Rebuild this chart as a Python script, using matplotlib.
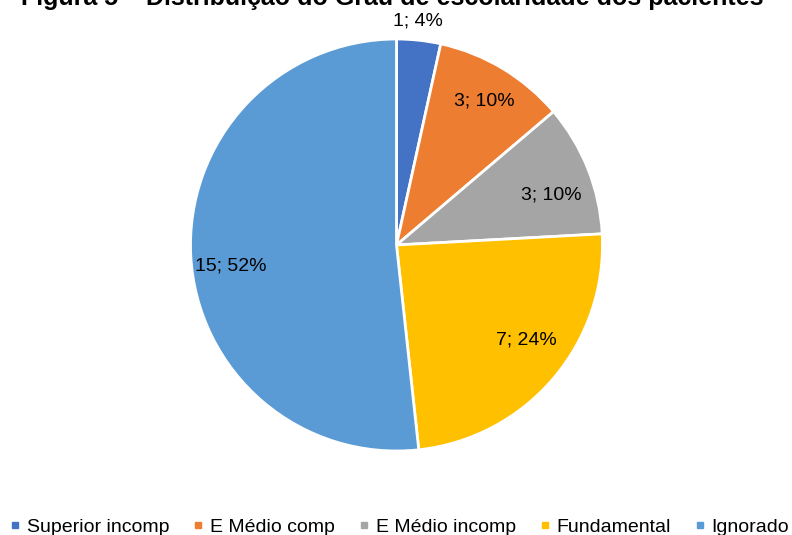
import matplotlib
matplotlib.use("Agg")
import matplotlib.pyplot as plt
from matplotlib.lines import Line2D
import numpy as np

categories = ["Superior incomp", "E Médio comp", "E Médio incomp", "Fundamental", "Ignorado"]
values = [1, 3, 3, 7, 15]
percent_labels = [4, 10, 10, 24, 52]
colors = ["#4472C4", "#ED7D31", "#A5A5A5", "#FFC000", "#5B9BD5"]
title = "Figura 5 – Distribuição do Grau de escolaridade dos pacientes"

# label placement (layout only): angle in degrees, distance as fraction of radius
label_angles = [84.6, 58.6, 18.0, -36.2, -172.7]
label_dists = [1.09, 0.82, 0.79, 0.78, 0.81]

plt.rcParams['font.family'] = ['Liberation Sans', 'DejaVu Sans']

W, H = 792, 535
CX, CY, R = 396.5, 290, 206
fig = plt.figure(figsize=(W / 100, H / 100), dpi=100)
ax = fig.add_axes([0, 0, 1, 1])

wedges, texts = ax.pie(
    values, colors=colors, startangle=90, counterclock=False,
    center=(CX, CY), radius=R,
    wedgeprops=dict(edgecolor='white', linewidth=2))

ax.set_xlim(0, W)
ax.set_ylim(0, H)
ax.set_aspect('equal')
ax.axis('off')

for v, p, a, d in zip(values, percent_labels, label_angles, label_dists):
    t = np.deg2rad(a)
    ax.text(CX + d * R * np.cos(t), CY + d * R * np.sin(t), f"{v}; {p}%",
            ha='center', va='center', fontsize=14, color='#000000')

fig.text(0.5 - 4 / W, (H - 5) / H, title, ha='center', va='baseline',
         fontsize=18, fontweight='bold', color='#000000')

handles = [Line2D([0], [0], marker='s', linestyle='none', markersize=5,
                  markerfacecolor=c, markeredgecolor=c) for c in colors]
fig.legend(handles, categories, loc='lower left', ncol=5, frameon=False,
           fontsize=14, bbox_to_anchor=(10 / W, -1 / H), borderaxespad=0,
           borderpad=0, handletextpad=0.35, handlelength=0.5,
           columnspacing=1.25)

fig.savefig("out.png", dpi=100)
